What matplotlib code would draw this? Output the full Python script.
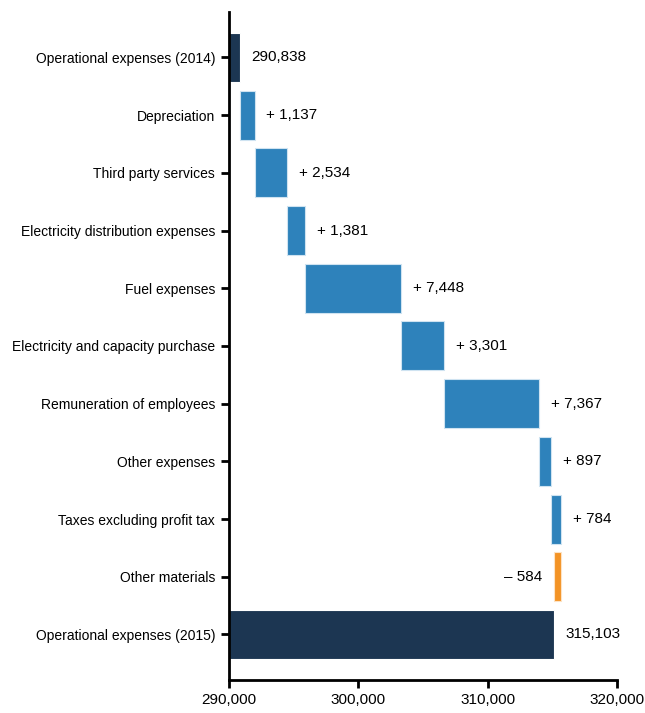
import matplotlib.pyplot as plt
from matplotlib.ticker import FuncFormatter


# =========================================================
# Data
# =========================================================
CATEGORIES = [
    "Operational expenses (2014)",
    "Depreciation",
    "Third party services",
    "Electricity distribution expenses",
    "Fuel expenses",
    "Electricity and capacity purchase",
    "Remuneration of employees",
    "Other expenses",
    "Taxes excluding profit tax",
    "Other materials",
    "Operational expenses (2015)",
]
START_TOTAL = 290838
CHANGES = [1137, 2534, 1381, 7448, 3301, 7367, 897, 784, -584]
END_TOTAL = 315103

X_TICKS = [290000, 300000, 310000, 320000]

# ---- Colours ----
NAVY   = "#1c3652"
BLUE   = "#2e82bb"
ORANGE = "#f39325"

FS = 10
plt.rcParams['font.family'] = ['Liberation Sans', 'DejaVu Sans']


# =========================================================
# Figure
# =========================================================
fig = plt.figure(figsize=(6.45, 7.13), dpi=100)
ax = fig.add_axes([0.355, 0.0463, 0.6016, 0.937])

XMIN = X_TICKS[0]
H = 0.85
OFF = 900

# first total
ax.barh(0, START_TOTAL - XMIN, left=XMIN, height=H, color=NAVY,
        edgecolor="white", linewidth=0.8)
ax.text(START_TOTAL + OFF, 0, f"{START_TOTAL:,}", va="center", ha="left", fontsize=FS + 1)

# steps
running = START_TOTAL
for i, d in enumerate(CHANGES, start=1):
    if d >= 0:
        ax.barh(i, d, left=running, height=H, color=BLUE,
                edgecolor="#cfe3f1", linewidth=0.8)
        ax.text(running + d + OFF, i, f"+ {d:,}", va="center", ha="left", fontsize=FS + 1)
    else:
        ax.barh(i, -d, left=running + d, height=H, color=ORANGE,
                edgecolor="#fde2c4", linewidth=0.8)
        ax.text(running + d - OFF, i, f"– {-d:,}", va="center", ha="right", fontsize=FS + 1)
    running += d

# final total
last = len(CATEGORIES) - 1
ax.barh(last, END_TOTAL - XMIN, left=XMIN, height=H, color=NAVY,
        edgecolor="white", linewidth=0.8)
ax.text(END_TOTAL + OFF, last, f"{END_TOTAL:,}", va="center", ha="left", fontsize=FS + 1)


# =========================================================
# Axes
# =========================================================
ax.set_xlim(X_TICKS[0], X_TICKS[-1])
ax.set_ylim(len(CATEGORIES) - 1 + 0.79, -0.79)
ax.set_xticks(X_TICKS)
ax.xaxis.set_major_formatter(FuncFormatter(lambda v, p: f"{int(v):,}"))
ax.set_yticks(range(len(CATEGORIES)))
ax.set_yticklabels(CATEGORIES)

for s in ["top", "right"]:
    ax.spines[s].set_visible(False)
for s in ["left", "bottom"]:
    ax.spines[s].set_linewidth(2)

ax.tick_params(axis="both", width=2, length=6, labelsize=FS)
ax.tick_params(axis="x", labelsize=FS + 1)
ax.tick_params(axis="y", pad=4)

plt.savefig("out.png", dpi=100)
plt.close()
